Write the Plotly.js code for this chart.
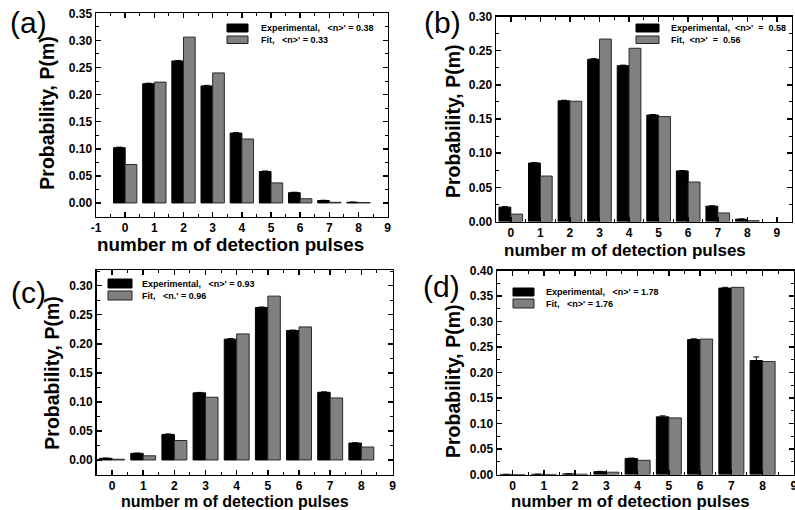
<!DOCTYPE html>
<html>
<head>
<meta charset="utf-8">
<script src="https://cdn.plot.ly/plotly-3.0.1.min.js"></script>
<style>html,body{margin:0;padding:0;background:#fff;}#chart{width:795px;height:510px;}</style>
</head>
<body>
<div id="chart"></div>
<script>
// ---- data ----
const m = [0, 1, 2, 3, 4, 5, 6, 7, 8];

const expA = [0.102, 0.220, 0.262, 0.216, 0.129, 0.058, 0.019, 0.0045, 0.0012];
const fitA = [0.071, 0.223, 0.306, 0.240, 0.118, 0.037, 0.0078, 0.0012, 0.0008];
const errA = [0.001, 0.001, 0.001, 0.001, 0.001, 0.001, 0.0008, 0.0005, 0.0005];

const expB = [0.021, 0.0856, 0.1766, 0.2375, 0.2280, 0.1558, 0.0740, 0.0225, 0.0034];
const fitB = [0.0108, 0.0665, 0.1760, 0.2670, 0.2535, 0.1535, 0.0578, 0.0125, 0.0012];
const errB = [0.0008, 0.0008, 0.0008, 0.0008, 0.0008, 0.0008, 0.0006, 0.0005, 0.0004];

const expC = [0.0029, 0.0114, 0.0440, 0.1155, 0.2080, 0.2625, 0.2228, 0.1165, 0.0291];
const fitC = [0.0012, 0.0072, 0.0335, 0.1080, 0.2170, 0.2820, 0.2290, 0.1068, 0.0223];
const errC = [0.0004, 0.0005, 0.0008, 0.0008, 0.0008, 0.0008, 0.0008, 0.0008, 0.0006];

const expD = [0.0002, 0.0004, 0.0012, 0.0055, 0.0313, 0.1130, 0.2645, 0.3655, 0.2235];
const fitD = [0.0001, 0.0002, 0.0006, 0.0045, 0.0278, 0.1110, 0.2655, 0.3670, 0.2215];
const errD = [0.0002, 0.0002, 0.0003, 0.0006, 0.0010, 0.0020, 0.0015, 0.0015, 0.0070];

const xTicksA = [-1, 0, 1, 2, 3, 4, 5, 6, 7, 8, 9];
const xTicks = [0, 1, 2, 3, 4, 5, 6, 7, 8, 9];
const yTicksA = [0.00, 0.05, 0.10, 0.15, 0.20, 0.25, 0.30, 0.35];
const yTicksB = [0.00, 0.05, 0.10, 0.15, 0.20, 0.25, 0.30];
const yTicksC = [0.00, 0.05, 0.10, 0.15, 0.20, 0.25, 0.30];
const yTicksD = [0.00, 0.05, 0.10, 0.15, 0.20, 0.25, 0.30, 0.35, 0.40];

const panelLabels = ['(a)', '(b)', '(c)', '(d)'];
const expLabels = ["Experimental,\u00a0\u00a0\u00a0&lt;n&gt;' = 0.38",
                   "Experimental,\u00a0\u00a0&lt;n&gt;'\u00a0\u00a0=\u00a0\u00a00.58",
                   "Experimental,\u00a0\u00a0\u00a0&lt;n&gt;' = 0.93",
                   "Experimental,\u00a0\u00a0\u00a0&lt;n&gt;' = 1.78"];
const fitLabels = ["Fit,\u00a0\u00a0\u00a0&lt;n&gt;' = 0.33",
                   "Fit,\u00a0\u00a0&lt;n&gt;'\u00a0\u00a0=\u00a0\u00a00.56",
                   "Fit,\u00a0\u00a0\u00a0&lt;n.' = 0.96",
                   "Fit,\u00a0\u00a0\u00a0&lt;n&gt;' = 1.76"];
const xTitle = 'number m of detection pulses';
const yTitle = 'Probability, P(m)';

// ---- helpers ----
const W = 795, H = 510;
const px = v => v / W;
const py = v => 1 - v / H;
const FONT = 'Liberation Sans, Arial, Helvetica, sans-serif';

const expSets = [expA, expB, expC, expD];
const fitSets = [fitA, fitB, fitC, fitD];
const errSets = [errA, errB, errC, errD];
const axSuffix = ['', '2', '3', '4'];

const traces = [];
for (let i = 0; i < 4; i++) {
  traces.push({
    type: 'bar', x: m, y: expSets[i], xaxis: 'x' + axSuffix[i], yaxis: 'y' + axSuffix[i],
    marker: {color: '#000000', line: {color: '#000000', width: 1}},
    error_y: {type: 'data', array: errSets[i], visible: true, color: '#000000', thickness: 1, width: 3},
    showlegend: false, hoverinfo: 'x+y'
  });
  traces.push({
    type: 'bar', x: m, y: fitSets[i], xaxis: 'x' + axSuffix[i], yaxis: 'y' + axSuffix[i],
    marker: {color: '#808080', line: {color: '#2a2a2a', width: 1}},
    showlegend: false, hoverinfo: 'x+y'
  });
}

const tickFont = {family: FONT, size: 12, color: '#000'};
function xax(domain, range, anchor, ticks) {
  return {domain: domain, range: range, anchor: anchor,
    tickmode: 'array', tickvals: ticks, ticktext: ticks.map(t => '<b>' + t + '</b>'),
    showline: true, linecolor: '#000', linewidth: 1.5, mirror: 'ticks',
    ticks: 'inside', ticklen: 5, tickwidth: 1.5, tickcolor: '#000',
    ticklabeloverflow: 'allow',
    minor: {ticks: 'inside', ticklen: 3, tickwidth: 1, tickcolor: '#000', dtick: 0.5, tick0: 0.5},
    showgrid: false, zeroline: false, tickfont: tickFont, fixedrange: true};
}
function yax(domain, range, anchor, ticks) {
  return {domain: domain, range: range, anchor: anchor,
    tickmode: 'array', tickvals: ticks, ticktext: ticks.map(t => '<b>' + t.toFixed(2) + '</b>'),
    showline: true, linecolor: '#000', linewidth: 1.5, mirror: 'ticks',
    ticks: 'inside', ticklen: 5, tickwidth: 1.5, tickcolor: '#000',
    minor: {ticks: 'inside', ticklen: 3, tickwidth: 1, tickcolor: '#000', dtick: 0.025, tick0: 0.025},
    showgrid: false, zeroline: false, tickfont: tickFont, fixedrange: true};
}

// legend geometry (pixels)
const legendPos = [
  {bx0: 227, bx1: 248, y1: [24, 32], y2: [36, 43.5], tx: 259, ty: [28, 40]},
  {bx0: 636, bx1: 659, y1: [24, 32], y2: [36, 43.5], tx: 669, ty: [28, 40]},
  {bx0: 108, bx1: 132, y1: [279, 288], y2: [291, 300], tx: 140, ty: [283.5, 295.5]},
  {bx0: 513, bx1: 534, y1: [288, 296], y2: [299, 308], tx: 544, ty: [292, 303.5]}
];
const shapes = [];
const annotations = [];
legendPos.forEach((L, i) => {
  shapes.push({type: 'rect', xref: 'paper', yref: 'paper', x0: px(L.bx0), x1: px(L.bx1),
    y0: py(L.y1[1]), y1: py(L.y1[0]), fillcolor: '#000', line: {color: '#000', width: 1}});
  shapes.push({type: 'rect', xref: 'paper', yref: 'paper', x0: px(L.bx0), x1: px(L.bx1),
    y0: py(L.y2[1]), y1: py(L.y2[0]), fillcolor: '#808080', line: {color: '#222', width: 1}});
  annotations.push({xref: 'paper', yref: 'paper', x: px(L.tx), y: py(L.ty[0]), xanchor: 'left', yanchor: 'middle',
    text: '<b>' + expLabels[i] + '</b>', showarrow: false, font: {family: FONT, size: 9, color: '#000'}});
  annotations.push({xref: 'paper', yref: 'paper', x: px(L.tx), y: py(L.ty[1]), xanchor: 'left', yanchor: 'middle',
    text: '<b>' + fitLabels[i] + '</b>', showarrow: false, font: {family: FONT, size: 9, color: '#000'}});
});

// panel letters
const letterPos = [[28, 23], [442, 23], [28, 292], [441, 286]];
letterPos.forEach((p, i) => annotations.push({xref: 'paper', yref: 'paper', x: px(p[0]), y: py(p[1]),
  xanchor: 'center', yanchor: 'middle', text: panelLabels[i], showarrow: false,
  font: {family: FONT, size: 30, color: '#000'}}));

// axis titles
const xTitlePos = [[230, 244, 18.8], [625, 250, 17], [235, 501, 16], [630, 501.5, 16.8]];
xTitlePos.forEach(p => annotations.push({xref: 'paper', yref: 'paper', x: px(p[0]), y: py(p[1]),
  xanchor: 'center', yanchor: 'middle', text: '<b>' + xTitle + '</b>', showarrow: false,
  font: {family: FONT, size: p[2], color: '#000'}}));
const yTitlePos = [[46.7, 113, 19.5], [453, 121, 19.5], [51.7, 373, 19.5], [453, 381, 19.5]];
yTitlePos.forEach(p => annotations.push({xref: 'paper', yref: 'paper', x: px(p[0]), y: py(p[1]),
  xanchor: 'center', yanchor: 'middle', text: '<b>' + yTitle + '</b>', showarrow: false, textangle: -90,
  font: {family: FONT, size: p[2], color: '#000'}}));

const layout = {
  width: W, height: H, margin: {l: 0, r: 0, t: 0, b: 0},
  paper_bgcolor: '#fff', plot_bgcolor: '#fff',
  barmode: 'group', bargap: 0.2, bargroupgap: 0,
  showlegend: false,
  xaxis:  xax([px(96), px(387.7)], [-1, 9], 'y', xTicksA),
  yaxis:  yax([py(216.5), py(13.3)], [-0.025, 0.35], 'x', yTicksA),
  xaxis2: xax([px(496), px(791.7)], [-0.5, 9.5], 'y2', xTicks),
  yaxis2: yax([py(221.5), py(16.5)], [0, 0.30], 'x2', yTicksB),
  xaxis3: xax([px(96.5), px(392.5)], [-0.5, 9], 'y3', xTicks),
  yaxis3: yax([py(474.5), py(270)], [-0.025, 0.327], 'x3', yTicksC),
  xaxis4: xax([px(497), px(794)], [-0.5, 9.005], 'y4', xTicks),
  yaxis4: yax([py(474.5), py(270.5)], [0, 0.40], 'x4', yTicksD),
  shapes: shapes, annotations: annotations
};

Plotly.newPlot('chart', traces, layout, {displayModeBar: false, staticPlot: true});
</script>
</body>
</html>
